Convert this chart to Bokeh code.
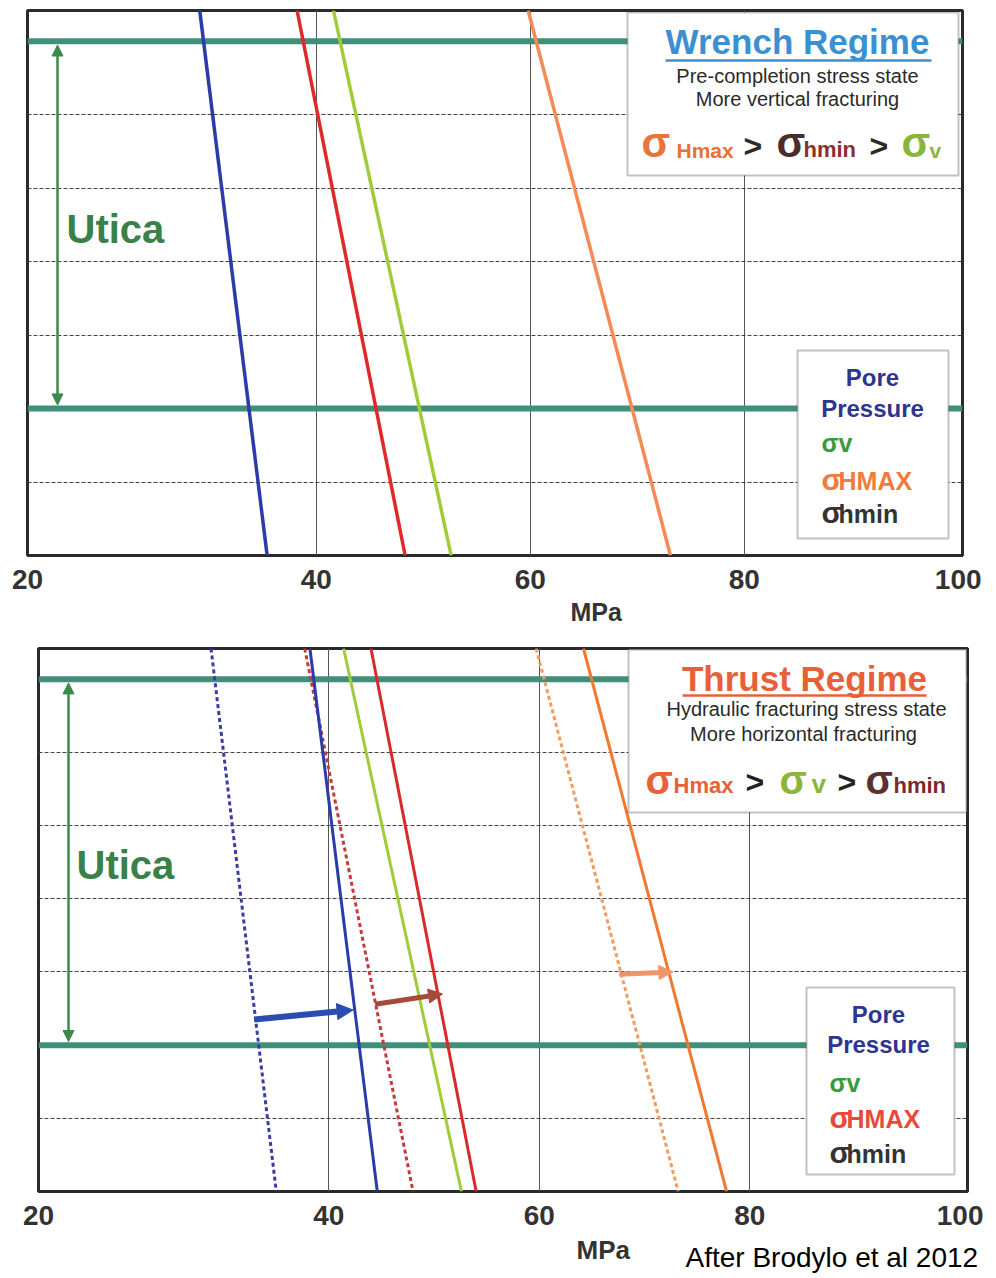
from bokeh.plotting import figure
from bokeh.models import Range1d, FixedTicker, Label, BoxAnnotation, Arrow, NormalHead
from bokeh.embed import file_html
from bokeh.resources import INLINE

# ---------------- data (MPa) ----------------
# depth levels (grid units): top and bottom of plotted interval
depth_levels = [7.42, 0.0]
utica_top = 7.0
utica_base = 2.0
x_tick_values = [40, 60, 80, 100]

# Wrench regime (pre-completion): x at top / bottom of the interval
wrench_pore = [29.1, 35.4]
wrench_shmin = [38.2, 48.3]
wrench_sv = [41.6, 52.6]
wrench_shmax = [59.8, 73.1]

# Thrust regime (hydraulic fracturing): dotted = before, solid = after
thrust_pore_before = [28.8, 35.0]
thrust_pore = [38.2, 44.6]
thrust_shmin_before = [37.7, 48.0]
thrust_sv = [41.4, 52.6]
thrust_shmin = [44.0, 54.0]
thrust_shmax_before = [59.7, 73.2]
thrust_shmax = [64.2, 77.8]

# shift arrows: x_start, x_end, y_start, y_end
arrow_pore = [32.9, 42.3, 2.35, 2.48]
arrow_shmin = [44.4, 50.8, 2.56, 2.70]
arrow_shmax = [67.6, 72.7, 2.97, 3.00]

FONT = "Liberation Sans"
TEAL = "#3f8f7a"
MID = 0.3465  # em-box middle above baseline (Liberation Sans)


def make_fig(height, L, R, T, B, x0, x1, canvas_top):
    p = figure(width=996, height=height, output_backend="svg", toolbar_location=None,
               x_range=Range1d(x0, x1), y_range=Range1d(0, depth_levels[0]),
               min_border_left=L, min_border_right=996 - R,
               min_border_top=T - canvas_top, min_border_bottom=canvas_top + height - B)
    p.background_fill_color = "white"
    p.border_fill_color = "white"
    p.outline_line_color = "#2a2a2a"
    p.outline_line_width = 3
    p.yaxis.visible = False
    ax = p.xaxis[0]
    ax.ticker = FixedTicker(ticks=[x0] + x_tick_values)
    ax.major_label_overrides = {x0: "20"}
    ax.major_label_text_font = FONT
    ax.major_label_text_font_style = "bold"
    ax.major_label_text_font_size = "28px"
    ax.major_label_text_color = "#333333"
    ax.major_label_standoff = 8
    ax.major_tick_line_color = None
    ax.minor_tick_line_color = None
    ax.axis_line_color = None
    p.xgrid.ticker = FixedTicker(ticks=x_tick_values[:-1])
    p.xgrid.grid_line_color = "#555555"
    p.xgrid.grid_line_width = 1
    p.ygrid.ticker = FixedTicker(ticks=[1, 2, 3, 4, 5, 6, 7])
    p.ygrid.grid_line_color = "#444444"
    p.ygrid.grid_line_dash = "4 2"
    p.ygrid.grid_line_width = 1

    def fx(px):
        return x0 + (px - L) * (x1 - x0) / (R - L)

    def fy(py):
        return (B - py) * depth_levels[0] / (B - T)

    return p, fx, fy


def caption_fig(top, bottom):
    c = figure(width=996, height=bottom - top, output_backend="svg", toolbar_location=None,
               x_range=Range1d(0, 996), y_range=Range1d(bottom, top),
               x_axis_type=None, y_axis_type=None,
               min_border_left=0, min_border_right=0, min_border_top=0, min_border_bottom=0)
    c.outline_line_color = None
    c.background_fill_color = "white"
    c.border_fill_color = "white"
    return c, (lambda px: px), (lambda py: py)


def label(p, fx, fy, px, py, text, size, color, bold=True, align="left"):
    # py is the text baseline in page pixels; anchor at the em-box middle
    p.add_layout(Label(x=fx(px), y=fy(py - MID * size), text=text, text_font=FONT,
                       text_font_style="bold" if bold else "normal",
                       text_font_size=f"{size}px", text_color=color,
                       text_align=align, text_baseline="middle"))


def hline(p, fx, fy, px0, px1, py, color, width):
    p.add_layout(Arrow(end=None, x_start=fx(px0), x_end=fx(px1), y_start=fy(py), y_end=fy(py),
                       line_color=color, line_width=width))


def utica(p, fx, fy, px, pytext, xline):
    for y in (utica_top, utica_base):
        p.line([p.x_range.start, p.x_range.end], [y, y], line_color=TEAL, line_width=6)
    head = dict(size=11, fill_color="#3a8a4a", line_color="#3a8a4a")
    p.add_layout(Arrow(x_start=xline, x_end=xline, y_start=utica_base + 0.05, y_end=utica_top - 0.05,
                       start=NormalHead(**head), end=NormalHead(**head),
                       line_color="#3a8a4a", line_width=2.5))
    label(p, fx, fy, px, pytext, "Utica", 40, "#3a8048")


# ======================= top panel: Wrench regime =======================
p1, fx1, fy1 = make_fig(596, 27, 962, 10, 555, 13.0, 100.4, 0)
utica(p1, fx1, fy1, 66, 242, fx1(57))
p1.line(wrench_pore, depth_levels, line_color="#2b3ca8", line_width=3.5)
p1.line(wrench_shmin, depth_levels, line_color="#e02a2a", line_width=3.5)
p1.line(wrench_sv, depth_levels, line_color="#a0cc3a", line_width=3.5)
p1.line(wrench_shmax, depth_levels, line_color="#f48a55", line_width=3.5)

p1.add_layout(BoxAnnotation(left=fx1(627), right=fx1(958), top=fy1(12), bottom=fy1(175),
                            fill_color="white", fill_alpha=1, line_color="#333333", line_width=2))
label(p1, fx1, fy1, 797, 53, "Wrench Regime", 35, "#3a90d0", align="center")
hline(p1, fx1, fy1, 665, 931, 60, "#3a90d0", 2.5)
label(p1, fx1, fy1, 797, 82, "Pre-completion stress state", 20, "#2a2a2a", bold=False, align="center")
label(p1, fx1, fy1, 797, 105, "More vertical fracturing", 20, "#2a2a2a", bold=False, align="center")
for px, t, s, c in [(641, "σ", 42, "#e8743c"), (676, "Hmax", 21, "#e8703a"), (743, ">", 32, "#2a2a2a"),
                    (776, "σ", 42, "#4a2c2c"), (803, "hmin", 22, "#8b2e2e"), (869, ">", 32, "#2a2a2a"),
                    (901, "σ", 42, "#8ab43c"), (929, "v", 21, "#8ab43c")]:
    label(p1, fx1, fy1, px, 157, t, s, c)

p1.add_layout(BoxAnnotation(left=fx1(797), right=fx1(948), top=fy1(350), bottom=fy1(538),
                            fill_color="white", fill_alpha=1, line_color="#333333", line_width=2))
label(p1, fx1, fy1, 872, 385, "Pore", 24, "#2e3590", align="center")
label(p1, fx1, fy1, 872, 416, "Pressure", 24, "#2e3590", align="center")
label(p1, fx1, fy1, 821, 451, "σv", 25, "#3a9a3a")
label(p1, fx1, fy1, 821, 489, "σ", 30, "#f07a40")
label(p1, fx1, fy1, 838, 489, "HMAX", 25, "#f07a40")
label(p1, fx1, fy1, 821, 522, "σ", 30, "#333333")
label(p1, fx1, fy1, 838, 522, "hmin", 25, "#333333")

c1, gx1, gy1 = caption_fig(596, 630)
label(c1, gx1, gy1, 570, 620, "MPa", 25, "#333333")

# ======================= bottom panel: Thrust regime =======================
p2, fx2, fy2 = make_fig(604, 38, 967, 648, 1191, 12.4, 100.7, 630)
utica(p2, fx2, fy2, 76, 878, fx2(68))
dot = "4 3"
p2.line(thrust_pore_before, depth_levels, line_color="#3a3aa8", line_width=3, line_dash=dot)
p2.line(thrust_shmin_before, depth_levels, line_color="#c83838", line_width=3, line_dash=dot)
p2.line(thrust_shmax_before, depth_levels, line_color="#f49a5a", line_width=3, line_dash=dot)
p2.line(thrust_pore, depth_levels, line_color="#2b3ca8", line_width=3)
p2.line(thrust_sv, depth_levels, line_color="#a0cc3a", line_width=3)
p2.line(thrust_shmin, depth_levels, line_color="#d82a2a", line_width=3)
p2.line(thrust_shmax, depth_levels, line_color="#f07830", line_width=3)

for a, c, w, s in [(arrow_pore, "#2b4cb0", 6, 16), (arrow_shmin, "#a84a3a", 5, 14),
                   (arrow_shmax, "#f0956a", 5, 14)]:
    p2.add_layout(Arrow(x_start=a[0], x_end=a[1], y_start=a[2], y_end=a[3], line_color=c, line_width=w,
                        end=NormalHead(size=s, fill_color=c, line_color=c)))

p2.add_layout(BoxAnnotation(left=fx2(628), right=fx2(966), top=fy2(649), bottom=fy2(812),
                            fill_color="white", fill_alpha=1, line_color="#333333", line_width=2))
label(p2, fx2, fy2, 804, 690, "Thrust Regime", 35, "#e8603a", align="center")
hline(p2, fx2, fy2, 682, 926, 695, "#e8603a", 2.5)
label(p2, fx2, fy2, 806, 715, "Hydraulic fracturing stress state", 20, "#2a2a2a", bold=False, align="center")
label(p2, fx2, fy2, 803, 740, "More horizontal fracturing", 20, "#2a2a2a", bold=False, align="center")
for px, t, s, c in [(645, "σ", 40, "#e8603a"), (673, "Hmax", 22, "#e8603a"), (745, ">", 32, "#222222"),
                    (779, "σ", 40, "#8ab43c"), (811, "v", 26, "#8ab43c"), (837, ">", 32, "#222222"),
                    (865, "σ", 40, "#5a3030"), (893, "hmin", 22, "#7a2a2a")]:
    label(p2, fx2, fy2, px, 793, t, s, c)

p2.add_layout(BoxAnnotation(left=fx2(806), right=fx2(954), top=fy2(987), bottom=fy2(1174),
                            fill_color="white", fill_alpha=1, line_color="#333333", line_width=2))
label(p2, fx2, fy2, 878, 1022, "Pore", 24, "#2e3590", align="center")
label(p2, fx2, fy2, 878, 1052, "Pressure", 24, "#2e3590", align="center")
label(p2, fx2, fy2, 829, 1091, "σv", 25, "#3a9a3a")
label(p2, fx2, fy2, 829, 1127, "σ", 30, "#e84a3a")
label(p2, fx2, fy2, 846, 1127, "HMAX", 25, "#e84a3a")
label(p2, fx2, fy2, 829, 1162, "σ", 30, "#333333")
label(p2, fx2, fy2, 846, 1162, "hmin", 25, "#333333")

c2, gx2, gy2 = caption_fig(1234, 1278)
label(c2, gx2, gy2, 576, 1259, "MPa", 26, "#333333")
label(c2, gx2, gy2, 685, 1267, "After Brodylo et al 2012", 28, "#000000", bold=False)

# separate roots so Bokeh does not align the two panels' frames
open("out.html", "w").write(file_html([p1, c1, p2, c2], INLINE))
